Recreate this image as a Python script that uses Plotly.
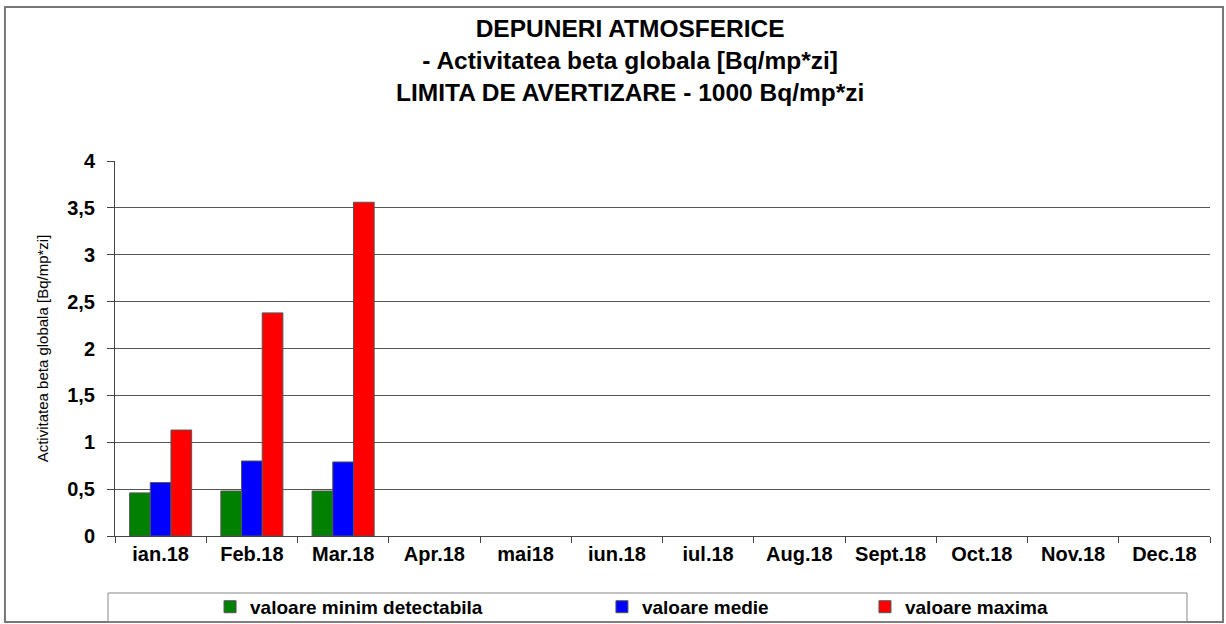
import plotly.graph_objects as go

months = ["ian.18", "Feb.18", "Mar.18", "Apr.18", "mai18", "iun.18",
          "iul.18", "Aug.18", "Sept.18", "Oct.18", "Nov.18", "Dec.18"]
val_min_detectabila = [0.46, 0.48, 0.48, None, None, None, None, None, None, None, None, None]
val_medie = [0.57, 0.80, 0.79, None, None, None, None, None, None, None, None, None]
val_maxima = [1.13, 2.38, 3.56, None, None, None, None, None, None, None, None, None]

FONT = "Liberation Sans, Arial, sans-serif"

# (name, values, colour, legend id, legend left in paper coords)
series = [
    ("valoare minim detectabila", val_min_detectabila, "#008000", "legend", 0.0868),
    ("valoare medie", val_medie, "#0000ff", "legend2", 0.4447),
    ("valoare maxima", val_maxima, "#ff0000", "legend3", 0.6849),
]

fig = go.Figure()
legends = {}
for name, vals, color, leg, lx in series:
    fig.add_trace(
        go.Bar(
            x=months,
            y=vals,
            name=name,
            legend=leg,
            marker=dict(color=color, line=dict(color="#555555", width=1)),
        )
    )
    legends[leg] = dict(
        x=lx, xanchor="left", y=-0.189, yanchor="middle",
        bgcolor="rgba(0,0,0,0)", borderwidth=0,
        font=dict(family=FONT, size=19, color="black", weight="bold"),
        itemwidth=30,
    )

fig.update_layout(
    width=1226,
    height=624,
    margin=dict(l=115, r=16, t=161, b=88, autoexpand=False),
    paper_bgcolor="white",
    plot_bgcolor="white",
    separators=", ",
    font=dict(family=FONT, color="black"),
    barmode="group",
    bargap=0.32,
    bargroupgap=0,
    showlegend=True,
    title=dict(
        text="<b>DEPUNERI ATMOSFERICE<br>- Activitatea beta globala [Bq/mp*zi]<br>"
             "LIMITA DE AVERTIZARE - 1000 Bq/mp*zi</b>",
        x=0.514, xanchor="center", y=0.9406, yanchor="top",
        font=dict(family=FONT, size=24.5, color="black"),
    ),
    xaxis=dict(
        showline=True, linecolor="#444444", linewidth=1,
        ticks="outside", tickson="boundaries", ticklen=6, tickcolor="#444444",
        tickfont=dict(family=FONT, size=20, color="black", weight="bold"),
        showgrid=False,
    ),
    yaxis=dict(
        range=[0, 4], dtick=0.5,
        showline=True, linecolor="#444444", linewidth=1,
        ticks="outside", ticklen=7, tickcolor="#444444",
        showgrid=True, gridcolor="#555555", gridwidth=1,
        zeroline=False,
        tickfont=dict(family=FONT, size=20, color="black", weight="bold"),
        ticklabelstandoff=8,
        title=dict(text="Activitatea beta globala [Bq/mp*zi]",
                   font=dict(family=FONT, size=15, color="black"), standoff=14),
    ),
    shapes=[
        dict(type="rect", xref="paper", yref="paper",
             x0=-0.1005, x1=1.0119, y0=-0.2293, y1=1.4107,
             line=dict(color="#777777", width=2), layer="below"),
        dict(type="rect", xref="paper", yref="paper",
             x0=-0.0064, x1=0.979, y0=-0.2293, y1=-0.152,
             line=dict(color="#888888", width=1), layer="below"),
    ],
    **legends,
)

fig.write_html(
    "out.html",
    config={"displayModeBar": False},
    post_script="document.body.style.margin='0';document.body.style.overflow='hidden';",
)
